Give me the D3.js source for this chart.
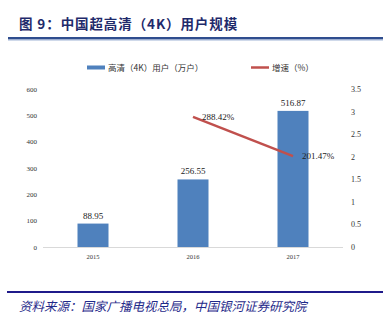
<!DOCTYPE html>
<html><head><meta charset="utf-8">
<script src="https://cdn.jsdelivr.net/npm/d3@7/dist/d3.min.js"></script>
<style>body{margin:0;background:#fff}svg{display:block}</style>
</head><body>
<script>
const years = ["2015", "2016", "2017"];
const users = [88.95, 256.55, 516.87];
const growthYears = ["2016", "2017"];
const growth = [2.8842, 2.0147];
const growthLabels = ["288.42%", "201.47%"];
const leftTicks = [0, 100, 200, 300, 400, 500, 600];
const rightTicks = [0, 0.5, 1, 1.5, 2, 2.5, 3, 3.5];

const W = 387, H = 324;
const svg = d3.select("body").append("svg").attr("width", W).attr("height", H);
const serif = "'Liberation Serif','DejaVu Serif',serif";
const cjk = "'Noto Sans CJK SC',sans-serif";

// Title
svg.append("text").attr("x", 19).attr("y", 29).attr("fill", "#1f2a6b")
  .attr("font-family", cjk).attr("font-weight", "bold").attr("font-size", 13.5)
  .attr("letter-spacing", 0.9)
  .text("图 9：中国超高清（4K）用户规模");
svg.append("rect").attr("x", 8).attr("y", 37).attr("width", 375).attr("height", 2.5).attr("fill", "#2f4d8e");
svg.append("rect").attr("x", 8).attr("y", 39.5).attr("width", 375).attr("height", 1).attr("fill", "#9fb3d6");

const x = d3.scaleBand().domain(years).range([43, 343]).paddingInner(0.69).paddingOuter(0.345);
const yL = d3.scaleLinear().domain([0, 600]).range([247, 89]);
const yR = d3.scaleLinear().domain([0, 3.5]).range([247, 89]);

// Axis line
svg.append("line").attr("x1", 43).attr("x2", 343).attr("y1", 247.5).attr("y2", 247.5).attr("stroke", "#d9d9d9");

// Left axis
const gL = svg.append("g").attr("transform", "translate(37,0)")
  .call(d3.axisLeft(yL).tickValues(leftTicks).tickSize(0).tickPadding(0));
gL.select(".domain").remove();
gL.selectAll("text").attr("font-family", serif).attr("font-size", 7).attr("fill", "#333");

// Right axis
const gR = svg.append("g").attr("transform", "translate(351,0)")
  .call(d3.axisRight(yR).tickValues(rightTicks).tickFormat(d3.format("~g")).tickSize(0).tickPadding(0));
gR.select(".domain").remove();
gR.selectAll("text").attr("font-family", serif).attr("font-size", 8).attr("fill", "#333");

// X labels
const gX = svg.append("g").attr("transform", "translate(0,251)")
  .call(d3.axisBottom(x).tickSize(0).tickPadding(3));
gX.select(".domain").remove();
gX.selectAll("text").attr("font-family", serif).attr("font-size", 6.5).attr("fill", "#333");

// Bars
svg.selectAll("rect.bar").data(years).join("rect").attr("class", "bar")
  .attr("x", d => x(d)).attr("width", x.bandwidth())
  .attr("y", (d, i) => yL(users[i])).attr("height", (d, i) => yL(0) - yL(users[i]))
  .attr("fill", "#4f81bd");
svg.selectAll("text.bl").data(years).join("text").attr("class", "bl")
  .attr("x", d => x(d) + x.bandwidth() / 2).attr("y", (d, i) => yL(users[i]) - 5)
  .attr("text-anchor", "middle").attr("font-family", serif).attr("font-size", 9).attr("fill", "#222")
  .text((d, i) => users[i].toFixed(2));

// Line
const line = d3.line().x(d => x(d[0]) + x.bandwidth() / 2).y(d => yR(d[1]));
svg.append("path").datum(growthYears.map((d, i) => [d, growth[i]]))
  .attr("d", line).attr("fill", "none").attr("stroke", "#c0504d").attr("stroke-width", 2.5);
svg.selectAll("text.gl").data(growthYears).join("text").attr("class", "gl")
  .attr("x", d => x(d) + x.bandwidth() / 2 + 9).attr("y", (d, i) => yR(growth[i]) + 3)
  .attr("font-family", serif).attr("font-size", 9).attr("fill", "#222")
  .text((d, i) => growthLabels[i]);

// Legend
svg.append("rect").attr("x", 87).attr("y", 65.5).attr("width", 18).attr("height", 4).attr("fill", "#4f81bd");
svg.append("text").attr("x", 108).attr("y", 71).attr("font-family", cjk).attr("font-size", 8.5).attr("fill", "#333")
  .text("高清（4K）用户（万户）");
svg.append("line").attr("x1", 251).attr("x2", 269).attr("y1", 67.5).attr("y2", 67.5).attr("stroke", "#c0504d").attr("stroke-width", 2.5);
svg.append("text").attr("x", 272).attr("y", 71).attr("font-family", cjk).attr("font-size", 8.5).attr("fill", "#333")
  .text("增速（%）");

// Bottom rule & source
svg.append("rect").attr("x", 7).attr("y", 291).attr("width", 376).attr("height", 2).attr("fill", "#1f1a8a");
svg.append("text").attr("x", 19).attr("y", 311).attr("font-family", cjk).attr("font-style", "italic")
  .attr("font-size", 12.5).attr("fill", "#1f2a8a")
  .text("资料来源：国家广播电视总局，中国银河证券研究院");
</script>
</body></html>
